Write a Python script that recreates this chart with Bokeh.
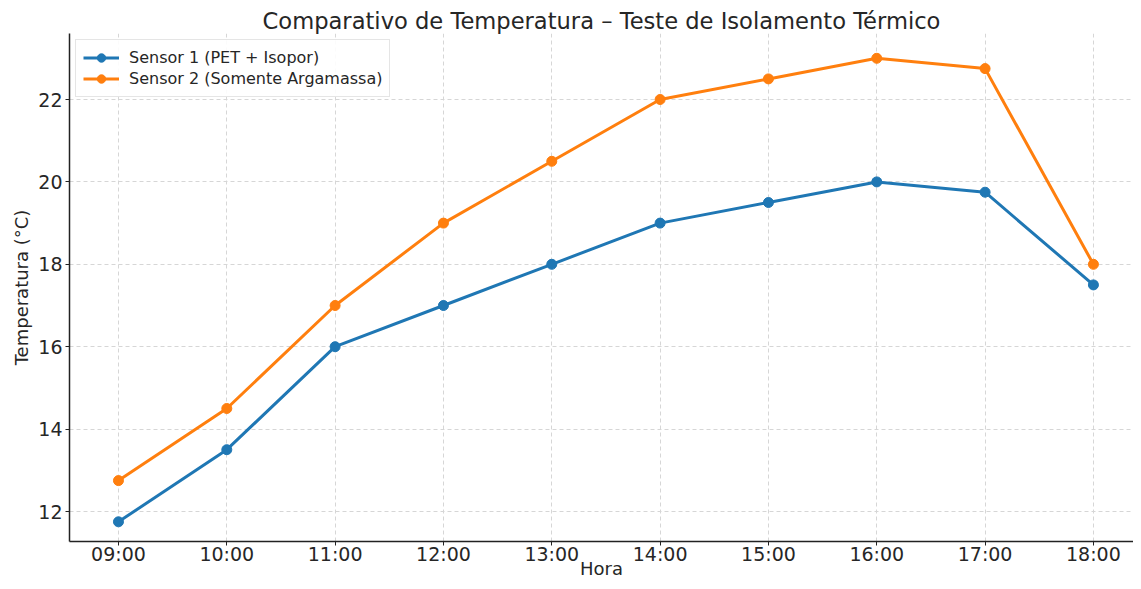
from bokeh.plotting import figure
from bokeh.models import FixedTicker, Range1d, Legend, LegendItem
from bokeh.embed import file_html
from bokeh.resources import INLINE

hours = ["09:00", "10:00", "11:00", "12:00", "13:00", "14:00", "15:00", "16:00", "17:00", "18:00"]
sensor1 = [11.75, 13.5, 16.0, 17.0, 18.0, 19.0, 19.5, 20.0, 19.75, 17.5]
sensor2 = [12.75, 14.5, 17.0, 19.0, 20.5, 22.0, 22.5, 23.0, 22.75, 18.0]
y_ticks = [12, 14, 16, 18, 20, 22]
label1 = "Sensor 1 (PET + Isopor)"
label2 = "Sensor 2 (Somente Argamassa)"

FONT = "DejaVu Sans"
TXT = "#262626"
x = list(range(len(hours)))

p = figure(width=1133, height=581, output_backend="svg", toolbar_location=None,
           x_range=Range1d(-0.452, 9.37), y_range=Range1d(11.272, 23.602),
           min_border_left=69, min_border_right=0, min_border_top=33, min_border_bottom=40)

p.title.text = "Comparativo de Temperatura \u2013 Teste de Isolamento Térmico"
p.title.text_font = FONT
p.title.text_font_size = "22.6px"
p.title.text_font_style = "normal"
p.title.text_color = TXT
p.title.align = "center"
p.title.standoff = 0

p.outline_line_color = None
p.background_fill_color = "white"

for ax in (p.xaxis[0], p.yaxis[0]):
    ax.axis_line_color = "#222222"
    ax.axis_line_width = 1.5
    ax.major_tick_line_color = "#222222"
    ax.major_tick_line_width = 1
    ax.major_tick_out = 4
    ax.major_tick_in = 0
    ax.minor_tick_line_color = None
    ax.major_label_text_font = FONT
    ax.major_label_text_font_size = "19px"
    ax.major_label_text_color = TXT
    ax.axis_label_text_font = FONT
    ax.axis_label_text_font_size = "18px"
    ax.axis_label_text_font_style = "normal"
    ax.axis_label_text_color = TXT

p.xaxis.ticker = FixedTicker(ticks=x)
p.xaxis.major_label_overrides = {i: h for i, h in enumerate(hours)}
p.xaxis.major_label_standoff = -3
p.xaxis.axis_label = "Hora"
p.xaxis.axis_label_standoff = -10
p.yaxis.ticker = FixedTicker(ticks=y_ticks)
p.yaxis.major_label_standoff = 3
p.yaxis.axis_label = "Temperatura (°C)"
p.yaxis.axis_label_standoff = 3

p.xgrid.grid_line_color = "#d6d6d6"
p.ygrid.grid_line_color = "#d6d6d6"
p.xgrid.grid_line_dash = "4 3"
p.ygrid.grid_line_dash = "4 3"

l1 = p.line(x, sensor1, line_color="#1f77b4", line_width=3)
s1 = p.scatter(x, sensor1, size=10, fill_color="#1f77b4", line_color="#1f77b4")
l2 = p.line(x, sensor2, line_color="#ff7f0e", line_width=3)
s2 = p.scatter(x, sensor2, size=10, fill_color="#ff7f0e", line_color="#ff7f0e")

legend = Legend(items=[LegendItem(label=label1, renderers=[l1, s1]),
                       LegendItem(label=label2, renderers=[l2, s2])],
                location="top_left")
legend.label_text_font = FONT
legend.label_text_font_size = "16px"
legend.label_text_color = TXT
legend.border_line_color = "#cccccc"
legend.border_line_width = 1
legend.background_fill_alpha = 0.9
legend.margin = 6
legend.padding = 7
legend.spacing = 0
legend.glyph_width = 36
legend.glyph_height = 21
legend.label_height = 21
legend.label_standoff = 10
p.add_layout(legend)

open("out.html", "w").write(file_html(p, INLINE))
